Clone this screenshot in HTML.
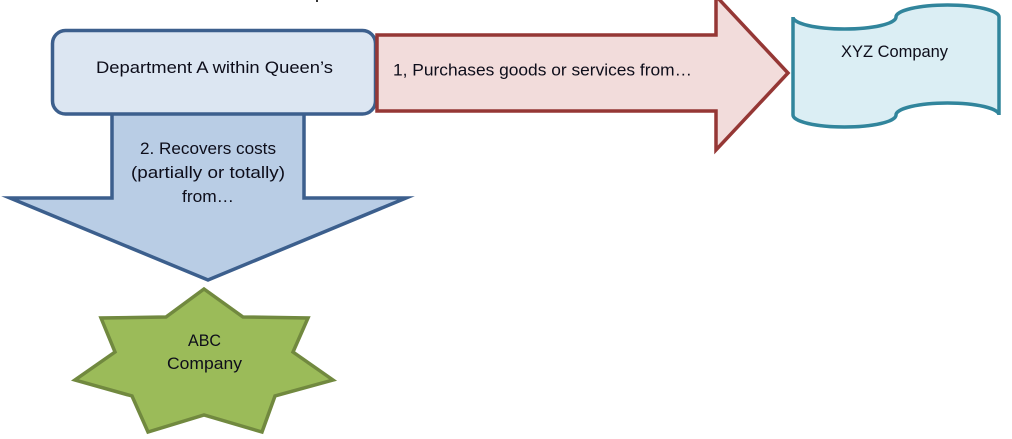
<!DOCTYPE html>
<html>
<head>
<meta charset="utf-8">
<style>
  html, body { margin: 0; padding: 0; background: #ffffff; }
  body { width: 1012px; height: 439px; overflow: hidden; }
  svg { display: block; }
  text { font-family: "Liberation Sans", Arial, sans-serif; font-size: 17px; fill: #0d0d1a; }
</style>
</head>
<body>
<svg width="1012" height="439" viewBox="0 0 1012 439" xmlns="http://www.w3.org/2000/svg">
  <!-- tiny mark at top -->
  <rect x="316" y="0" width="2" height="2" fill="#333"/>

  <!-- Down arrow (behind box) -->
  <polygon points="112,105 304,105 304,198 406,198 208,280 10,198 112,198"
           fill="#b9cde5" stroke="#3c5f8d" stroke-width="3.5" stroke-linejoin="miter" stroke-miterlimit="10"/>

  <!-- Department box -->
  <rect x="52.5" y="30.5" width="323" height="83.5" rx="13" ry="13"
        fill="#dce6f2" stroke="#3c5f8d" stroke-width="3.5"/>

  <!-- Right arrow -->
  <polygon points="377,35 716,35 716,-4 788,73 716,150 716,111 377,111"
           fill="#f2dcdb" stroke="#953735" stroke-width="3.5" stroke-linejoin="miter" stroke-miterlimit="10"/>

  <!-- XYZ punched tape shape -->
  <path d="M793,17
           C793,23.63 816.06,29 844.5,29
           C872.94,29 896,23.63 896,17
           C896,10.37 919.06,5 947.5,5
           C975.94,5 999,10.37 999,17
           L999,115
           C999,108.37 975.94,103 947.5,103
           C919.06,103 896,108.37 896,115
           C896,121.63 872.94,127 844.5,127
           C816.06,127 793,121.63 793,115 Z"
        fill="#dbeef4" stroke="#31859c" stroke-width="3.5"/>

  <!-- ABC 7-point star -->
  <polygon points="204,289 243,317 308,318 293,352 333,380 275,396 262,432 204,415 148,432 132,396 75,380 115,352 101,318 166,317"
           fill="#9bbb59" stroke="#71893f" stroke-width="3.5" stroke-linejoin="miter"/>

  <!-- Labels -->
  <text x="96" y="73" textLength="237" lengthAdjust="spacingAndGlyphs">Department A within Queen’s</text>
  <text x="393" y="75.5" textLength="299" lengthAdjust="spacingAndGlyphs">1, Purchases goods or services from…</text>
  <text x="841" y="57" textLength="107" lengthAdjust="spacingAndGlyphs">XYZ Company</text>

  <text x="140" y="154" textLength="136" lengthAdjust="spacingAndGlyphs">2. Recovers costs</text>
  <text x="131" y="178" textLength="154" lengthAdjust="spacingAndGlyphs">(partially or totally)</text>
  <text x="182" y="202" textLength="52" lengthAdjust="spacingAndGlyphs">from…</text>

  <text x="188" y="346" textLength="33" lengthAdjust="spacingAndGlyphs">ABC</text>
  <text x="167" y="369" textLength="75" lengthAdjust="spacingAndGlyphs">Company</text>
</svg>
</body>
</html>
